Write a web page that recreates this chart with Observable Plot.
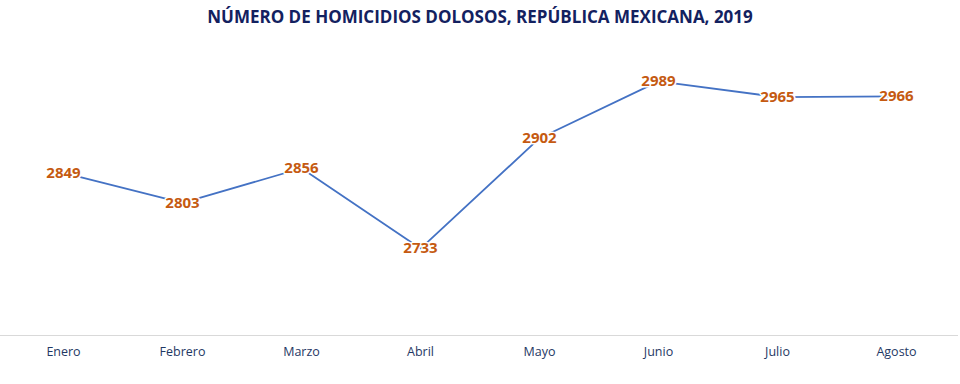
<!DOCTYPE html>
<html>
<head>
<meta charset="utf-8">
<script src="https://cdn.jsdelivr.net/npm/d3@7"></script>
<script src="https://cdn.jsdelivr.net/npm/@observablehq/plot@0.6"></script>
<style>
  body { margin: 0; background: #fff; }
  #title { height: 34px; line-height: 34px; text-align: center; font-family: "Open Sans", sans-serif; font-weight: 700; font-size: 17px; color: #132160; white-space: nowrap; }
</style>
</head>
<body>
<div id="title">NÚMERO DE HOMICIDIOS DOLOSOS, REPÚBLICA MEXICANA, 2019</div>
<div id="chart"></div>
<script>
const months = ["Enero", "Febrero", "Marzo", "Abril", "Mayo", "Junio", "Julio", "Agosto"];
const homicidios = [2849, 2803, 2856, 2733, 2902, 2989, 2965, 2966];
const yMin = 2600;
const yMax = 3050;

const data = months.map((m, i) => ({month: m, value: homicidios[i]}));

const chart = Plot.plot({
  width: 960,
  height: 350,
  marginTop: 7,
  marginBottom: 49,
  marginLeft: 0,
  marginRight: 2,
  style: {fontFamily: "'Open Sans', sans-serif", background: "#fff"},
  x: {type: "point", domain: months, padding: 0.5, label: null},
  y: {domain: [yMin, yMax], axis: null},
  marks: [
    Plot.ruleY([yMin], {stroke: "#d9d9d9", strokeWidth: 1}),
    Plot.axisX({tickSize: 0, tickPadding: 12, fontSize: 12.5, color: "#1f3864", label: null}),
    Plot.line(data, {x: "month", y: "value", stroke: "#4472c4", strokeWidth: 1.8}),
    Plot.text(data, {x: "month", y: "value", text: d => String(d.value), fill: "#c55a11", fontWeight: "bold", fontSize: 15, stroke: "white", strokeWidth: 3, paintOrder: "stroke"})
  ]
});
document.getElementById("chart").appendChild(chart);
</script>
</body>
</html>
